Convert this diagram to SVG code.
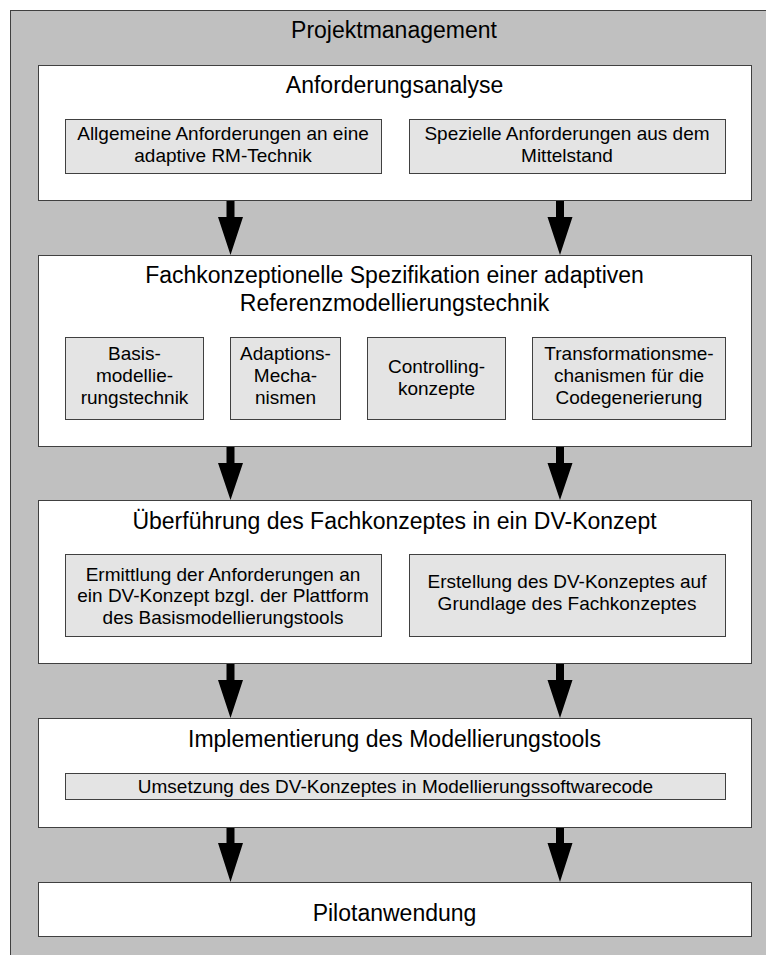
<svg xmlns="http://www.w3.org/2000/svg" width="766" height="955" viewBox="0 0 766 955">
<style>
.bg{fill:#c0c0c0;stroke:#404040;stroke-width:1}
.box{fill:#ffffff;stroke:#404040;stroke-width:1}
.sub{fill:#e4e4e4;stroke:#404040;stroke-width:1}
.t{font-family:"Liberation Sans",Arial,sans-serif;font-size:23px;fill:#000;text-anchor:middle}
.s{font-family:"Liberation Sans",Arial,sans-serif;font-size:19px;fill:#000;text-anchor:middle}
.arr{fill:#000;stroke:none}
</style>
<g id="projektmanagement">
<rect class="bg" x="10.5" y="10.5" width="800" height="1000"/>
<text class="t" x="394" y="38">Projektmanagement</text>
</g>
<g id="anforderungsanalyse">
<rect class="box" x="38.5" y="65.5" width="713" height="135"/>
<text class="t" x="394.5" y="93">Anforderungsanalyse</text>
</g>
<g id="allgemeine-anforderungen">
<rect class="sub" x="65.5" y="119.5" width="316" height="54"/>
<text class="s" x="223" y="140"><tspan x="223">Allgemeine Anforderungen an eine</tspan><tspan x="223" dy="22">adaptive RM-Technik</tspan></text>
</g>
<g id="spezielle-anforderungen">
<rect class="sub" x="409.5" y="119.5" width="316" height="54"/>
<text class="s" x="567" y="140"><tspan x="567">Spezielle Anforderungen aus dem</tspan><tspan x="567" dy="22">Mittelstand</tspan></text>
</g>
<g id="fachkonzept">
<rect class="box" x="38.5" y="255.5" width="713" height="191"/>
<text class="t" x="394.5" y="283"><tspan x="394.5">Fachkonzeptionelle Spezifikation einer adaptiven</tspan><tspan x="394.5" dy="28">Referenzmodellierungstechnik</tspan></text>
</g>
<g id="basismodellierungstechnik">
<rect class="sub" x="65.5" y="337.5" width="138" height="82"/>
<text class="s" x="134.5" y="360"><tspan x="134.5">Basis-</tspan><tspan x="134.5" dy="22">modellie-</tspan><tspan x="134.5" dy="22">rungstechnik</tspan></text>
</g>
<g id="adaptionsmechanismen">
<rect class="sub" x="230.5" y="337.5" width="110" height="82"/>
<text class="s" x="285.5" y="360"><tspan x="285.5">Adaptions-</tspan><tspan x="285.5" dy="22">Mecha-</tspan><tspan x="285.5" dy="22">nismen</tspan></text>
</g>
<g id="controllingkonzepte">
<rect class="sub" x="367.5" y="337.5" width="138" height="82"/>
<text class="s" x="436.5" y="373"><tspan x="436.5">Controlling-</tspan><tspan x="436.5" dy="22">konzepte</tspan></text>
</g>
<g id="transformationsmechanismen">
<rect class="sub" x="532.5" y="337.5" width="193" height="82"/>
<text class="s" x="629" y="360"><tspan x="629">Transformationsme-</tspan><tspan x="629" dy="22">chanismen für die</tspan><tspan x="629" dy="22">Codegenerierung</tspan></text>
</g>
<g id="dv-konzept">
<rect class="box" x="38.5" y="500.5" width="713" height="163"/>
<text class="t" x="394.5" y="529">Überführung des Fachkonzeptes in ein DV-Konzept</text>
</g>
<g id="ermittlung">
<rect class="sub" x="65.5" y="554.5" width="316" height="82"/>
<text class="s" x="223" y="580.5"><tspan x="223">Ermittlung der Anforderungen an</tspan><tspan x="223" dy="21.5">ein DV-Konzept bzgl. der Plattform</tspan><tspan x="223" dy="21.5">des Basismodellierungstools</tspan></text>
</g>
<g id="erstellung">
<rect class="sub" x="409.5" y="554.5" width="316" height="82"/>
<text class="s" x="567" y="588"><tspan x="567">Erstellung des DV-Konzeptes auf</tspan><tspan x="567" dy="22">Grundlage des Fachkonzeptes</tspan></text>
</g>
<g id="implementierung">
<rect class="box" x="38.5" y="718.5" width="713" height="109"/>
<text class="t" x="394.5" y="747">Implementierung des Modellierungstools</text>
</g>
<g id="umsetzung">
<rect class="sub" x="65.5" y="773.5" width="660" height="26"/>
<text class="s" x="395.5" y="793">Umsetzung des DV-Konzeptes in Modellierungssoftwarecode</text>
</g>
<g id="pilotanwendung">
<rect class="box" x="38.5" y="882.5" width="713" height="54"/>
<text class="t" x="394.5" y="921">Pilotanwendung</text>
</g>
<g id="connectors">
<path class="arr" d="M226.5,201 H234.5 V217 H243 L230.5,255 L218,217 H226.5 Z"/>
<path class="arr" d="M556,201 H564 V217 H572.5 L560,255 L547.5,217 H556 Z"/>
<path class="arr" d="M226.5,447 H234.5 V463 H243 L230.5,500 L218,463 H226.5 Z"/>
<path class="arr" d="M556,447 H564 V463 H572.5 L560,500 L547.5,463 H556 Z"/>
<path class="arr" d="M226.5,664 H234.5 V680 H243 L230.5,718 L218,680 H226.5 Z"/>
<path class="arr" d="M556,664 H564 V680 H572.5 L560,718 L547.5,680 H556 Z"/>
<path class="arr" d="M226.5,828 H234.5 V843 H243 L230.5,882 L218,843 H226.5 Z"/>
<path class="arr" d="M556,828 H564 V843 H572.5 L560,882 L547.5,843 H556 Z"/>
</g>
</svg>
